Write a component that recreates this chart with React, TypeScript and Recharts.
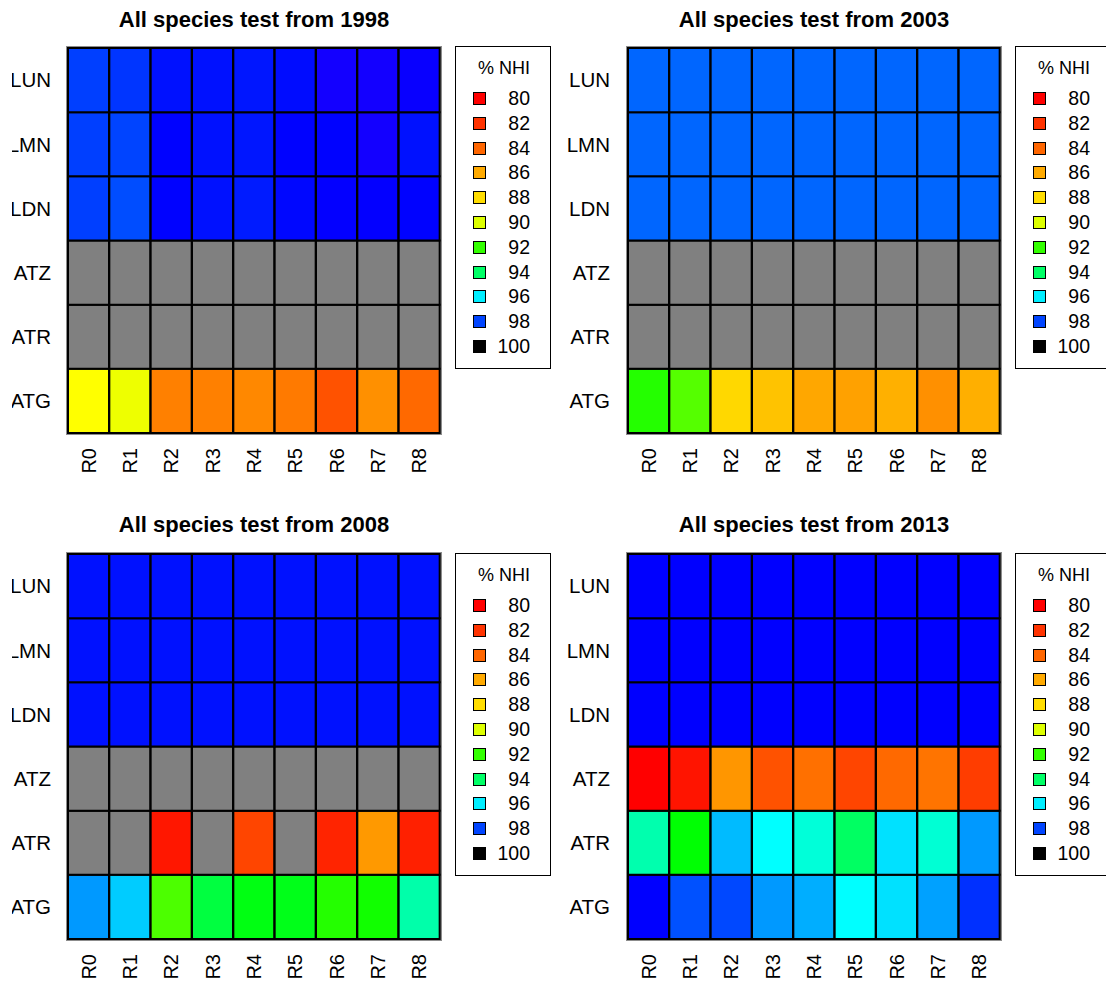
import React from 'react';
import { BarChart, Bar, XAxis, YAxis, Cell, ReferenceArea } from 'recharts';

// Row (species group) labels, top to bottom
const ROWS = ['LUN', 'LMN', 'LDN', 'ATZ', 'ATR', 'ATG'];
// Column labels
const COLS = ['R0', 'R1', 'R2', 'R3', 'R4', 'R5', 'R6', 'R7', 'R8'];
// Legend levels (% NHI)
const LEGEND_LEVELS = [80, 82, 84, 86, 88, 90, 92, 94, 96, 98, 100];
// Colour scale: value -> hue stops
const HUE_STOP_VALUES = [80, 82, 84, 86, 88, 90, 92, 94, 96, 98, 100];
const HUE_STOP_DEGREES = [0, 12, 24, 40, 52, 68, 108, 144, 184, 224, 248];

const N = null;
// % NHI per row (LUN..ATG) and column (R0..R8); null = no data
const nhi1998 = [
  [98.1, 98.3, 99.0, 99.0, 98.9, 99.1, 99.7, 99.7, 99.5],
  [98.1, 98.0, 99.3, 99.0, 98.9, 99.3, 99.3, 99.7, 99.0],
  [98.1, 97.9, 99.3, 99.0, 98.8, 99.2, 99.4, 99.4, 99.3],
  [N, N, N, N, N, N, N, N, N],
  [N, N, N, N, N, N, N, N, N],
  [89.0, 89.5, 84.75, 84.75, 85.0, 84.6, 83.2, 85.25, 84.1],
];
const nhi2003 = [
  [97.6, 97.6, 97.6, 97.6, 97.6, 97.6, 97.6, 97.6, 97.6],
  [97.6, 97.6, 97.6, 97.6, 97.6, 97.6, 97.6, 97.6, 97.6],
  [97.6, 97.6, 97.6, 97.6, 97.6, 97.6, 97.6, 97.6, 97.6],
  [N, N, N, N, N, N, N, N, N],
  [N, N, N, N, N, N, N, N, N],
  [92.2, 91.6, 87.8, 87.0, 85.9, 85.75, 86.25, 85.25, 86.2],
];
const nhi2008 = [
  [99.0, 99.0, 99.0, 99.0, 99.0, 99.0, 99.0, 99.0, 99.0],
  [99.0, 99.0, 99.0, 99.0, 99.0, 99.0, 99.0, 99.0, 99.0],
  [99.0, 99.0, 99.0, 99.0, 99.0, 99.0, 99.0, 99.0, 99.0],
  [N, N, N, N, N, N, N, N, N],
  [N, N, 80.9, N, 82.7, N, 81.4, 85.5, 81.25],
  [97.0, 96.4, 91.7, 93.5, 92.9, 93.0, 92.2, 92.45, 94.8],
];
const nhi2013 = [
  [99.33, 99.33, 99.33, 99.33, 99.33, 99.33, 99.33, 99.33, 99.33],
  [99.33, 99.33, 99.33, 99.33, 99.33, 99.33, 99.33, 99.33, 99.33],
  [99.33, 99.33, 99.33, 99.33, 99.33, 99.33, 99.33, 99.33, 99.33],
  [80.0, 80.8, 85.4, 83.2, 84.3, 82.7, 84.1, 84.4, 82.4],
  [94.85, 92.7, 96.6, 95.8, 95.35, 93.95, 96.15, 95.3, 97.0],
  [99.33, 97.85, 97.95, 97.0, 96.75, 95.8, 96.15, 96.9, 98.4],
];

const FONT = '"Liberation Sans", Arial, sans-serif';
const NA_COLOR = '#808080';

function hueFor(v: number): number {
  for (let i = 0; i < HUE_STOP_VALUES.length - 1; i++) {
    const a = HUE_STOP_VALUES[i];
    const b = HUE_STOP_VALUES[i + 1];
    if (v <= b) {
      const t = Math.max(0, (v - a) / (b - a));
      return HUE_STOP_DEGREES[i] + t * (HUE_STOP_DEGREES[i + 1] - HUE_STOP_DEGREES[i]);
    }
  }
  return HUE_STOP_DEGREES[HUE_STOP_DEGREES.length - 1];
}
function colorFor(v: number | null): string {
  if (v === null || v === undefined) return NA_COLOR;
  return `hsl(${hueFor(v).toFixed(1)}, 100%, 50%)`;
}
function legendColor(v: number): string {
  return v >= 100 ? '#000000' : colorFor(v);
}

const PLOT_W = 372;
const PLOT_H = 385;

function XTick(props: any) {
  const { x, y, payload } = props;
  return (
    <text
      x={x}
      y={y}
      transform={`rotate(-90 ${x} ${y})`}
      textAnchor="end"
      dominantBaseline="central"
      fontFamily={FONT}
      fontSize={20}
      fill="#000"
    >
      {payload.value}
    </text>
  );
}

function Heatmap({ values, width, height, yAxisW, plotTop, yTickMargin }: any) {
  const table = COLS.map((c) => {
    const o: any = { col: c };
    ROWS.forEach((r) => (o[r] = 1));
    return o;
  });
  const xAxisH = height - plotTop - PLOT_H;
  const stackOrder = [...ROWS].reverse();
  return (
    <BarChart
      width={width}
      height={height}
      data={table}
      margin={{ top: plotTop, left: 0, right: width - yAxisW - PLOT_W, bottom: 0 }}
      barCategoryGap={0}
      barGap={0}
    >
      <XAxis
        dataKey="col"
        type="category"
        height={xAxisH}
        tickLine={false}
        axisLine={false}
        tickSize={0}
        tickMargin={15}
        interval={0}
        tick={<XTick />}
      />
      <YAxis
        type="number"
        domain={[0, 6]}
        ticks={[0.5, 1.5, 2.5, 3.5, 4.5, 5.5]}
        tickFormatter={(v: number) => ROWS[5 - Math.floor(v)]}
        width={yAxisW}
        tickLine={false}
        axisLine={false}
        tickSize={0}
        tickMargin={yTickMargin}
        tick={{ fontFamily: FONT, fontSize: 20.5, fill: '#000' }}
      />
      <ReferenceArea
        x1="R0"
        x2="R8"
        y1={0}
        y2={6}
        fill="none"
        fillOpacity={0}
        stroke="#8c8c8c"
        strokeWidth={4}
        ifOverflow="visible"
      />
      {stackOrder.map((r) => {
        const ri = ROWS.indexOf(r);
        return (
          <Bar key={r} dataKey={r} stackId="s" isAnimationActive={false}>
            {COLS.map((c, ci) => (
              <Cell key={c} fill={colorFor(values[ri][ci])} stroke="#000" strokeWidth={2} />
            ))}
          </Bar>
        );
      })}
    </BarChart>
  );
}

function LegendBox({ left, top }: { left: number; top: number }) {
  return (
    <div
      style={{
        position: 'absolute',
        left,
        top,
        width: 96,
        height: 323,
        border: '1px solid #000',
        boxSizing: 'border-box',
        background: '#fff',
        fontFamily: FONT,
        color: '#000',
      }}
    >
      <div style={{ position: 'absolute', left: 0, width: 96, top: 10, textAlign: 'center', fontSize: 18, lineHeight: '22px' }}>
        % NHI
      </div>
      {LEGEND_LEVELS.map((v, i) => (
        <div key={v}>
          <div
            style={{
              position: 'absolute',
              left: 17,
              top: 45 + i * 24.8,
              width: 13,
              height: 13,
              boxSizing: 'border-box',
              border: '1.5px solid #000',
              background: legendColor(v),
            }}
          />
          <div
            style={{
              position: 'absolute',
              right: 20,
              top: 40 + i * 24.8,
              fontSize: 19.5,
              lineHeight: '22px',
              textAlign: 'right',
            }}
          >
            {v}
          </div>
        </div>
      ))}
    </div>
  );
}

const PANELS = [
  { year: 1998, values: nhi1998, left: 12, top: 0, width: 541, height: 505, yAxisW: 56, yTickMargin: 17, plotTop: 48, legendLeft: 455, legendTop: 46 },
  { year: 2003, values: nhi2003, left: 553, top: 0, width: 553, height: 505, yAxisW: 75, yTickMargin: 18, plotTop: 48, legendLeft: 1015, legendTop: 46 },
  { year: 2008, values: nhi2008, left: 12, top: 505, width: 541, height: 480, yAxisW: 56, yTickMargin: 17, plotTop: 49, legendLeft: 455, legendTop: 553 },
  { year: 2013, values: nhi2013, left: 553, top: 505, width: 553, height: 480, yAxisW: 75, yTickMargin: 18, plotTop: 49, legendLeft: 1015, legendTop: 553 },
];

export default function App() {
  return (
    <div
      style={{
        position: 'absolute',
        left: 0,
        top: 0,
        width: 1106,
        height: 985,
        overflow: 'hidden',
        background: '#fff',
      }}
    >
      {PANELS.map((p) => (
        <React.Fragment key={p.year}>
          <div
            style={{
              position: 'absolute',
              left: p.left + p.yAxisW - 100,
              top: p.top + 6,
              width: PLOT_W + 200,
              textAlign: 'center',
              fontFamily: FONT,
              fontWeight: 'bold',
              fontSize: 22,
              lineHeight: '28px',
              color: '#000',
            }}
          >
            All species test from {p.year}
          </div>
          <div style={{ position: 'absolute', left: p.left, top: p.top, width: p.width, height: p.height }}>
            <Heatmap
              values={p.values}
              width={p.width}
              height={p.height}
              yAxisW={p.yAxisW}
              yTickMargin={p.yTickMargin}
              plotTop={p.plotTop}
            />
          </div>
          <LegendBox left={p.legendLeft} top={p.legendTop} />
        </React.Fragment>
      ))}
    </div>
  );
}
